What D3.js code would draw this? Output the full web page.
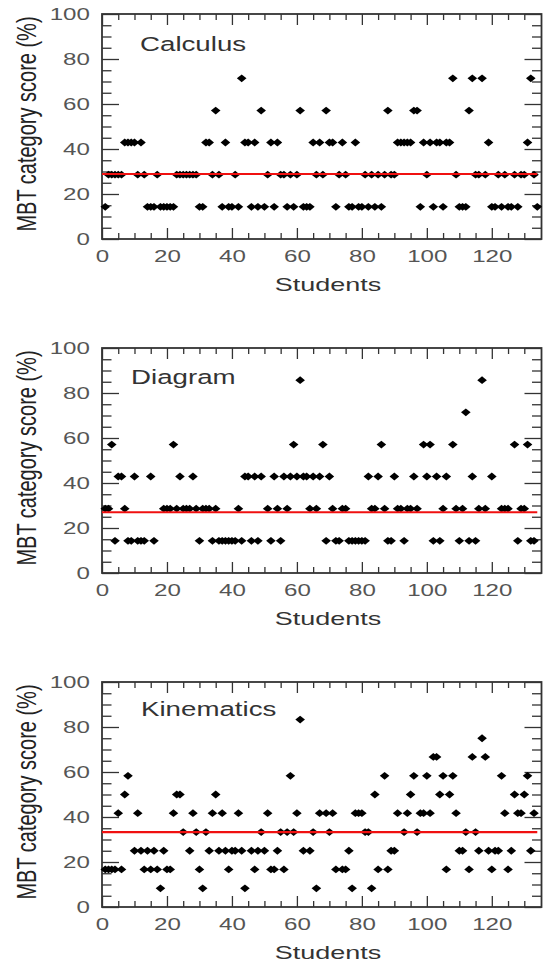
<!DOCTYPE html>
<html>
<head>
<meta charset="utf-8">
<script src="https://cdn.jsdelivr.net/npm/d3@7"></script>
<style>
  body { margin: 0; background: #fff; }
  svg { display: block; }
</style>
</head>
<body>
<svg id="chart" width="546" height="962"></svg>
<script>
// scores (%) per student, student 1 first; null = no marker visible
const calculusScores = [
    14.3, 28.6, 28.6, 28.6, 28.6, 28.6, 42.9, 42.9, 42.9, 42.9,
    28.6, 42.9, 28.6, 14.3, 14.3, 14.3, 28.6, 14.3, 14.3, 14.3,
    14.3, 14.3, 28.6, 28.6, 28.6, 28.6, 28.6, 28.6, 28.6, 14.3,
    14.3, 42.9, 42.9, 28.6, 57.1, 28.6, 14.3, 42.9, 14.3, 14.3,
    28.6, 14.3, 71.4, 42.9, 42.9, 14.3, 42.9, 14.3, 57.1, 14.3,
    28.6, 42.9, 14.3, 42.9, 28.6, 28.6, 14.3, 28.6, 14.3, 28.6,
    57.1, 14.3, 14.3, 14.3, 42.9, 28.6, 42.9, 28.6, 57.1, 42.9,
    42.9, 14.3, 28.6, 42.9, 28.6, 14.3, 14.3, 42.9, 14.3, 14.3,
    28.6, 14.3, 28.6, 14.3, 28.6, 14.3, 28.6, 57.1, 28.6, 28.6,
    42.9, 42.9, 42.9, 42.9, 42.9, 57.1, 57.1, 14.3, 42.9, 28.6,
    42.9, 14.3, 42.9, 42.9, 14.3, 42.9, 42.9, 71.4, 28.6, 14.3,
    14.3, 14.3, 57.1, 71.4, 28.6, 28.6, 71.4, 28.6, 42.9, 14.3,
    14.3, 28.6, 14.3, 28.6, 14.3, 14.3, 28.6, 14.3, 28.6, 28.6,
    42.9, 71.4, 28.6, 14.3
];

const diagramScores = [
    28.6, 28.6, 57.1, 14.3, 42.9, 42.9, 28.6, 14.3, 14.3, 42.9,
    14.3, 14.3, 14.3, null, 42.9, 14.3, null, null, 28.6, 28.6,
    28.6, 57.1, 28.6, 42.9, 28.6, 28.6, 28.6, 42.9, 28.6, 14.3,
    28.6, 28.6, 28.6, 14.3, 28.6, 14.3, 14.3, 14.3, 14.3, 14.3,
    14.3, 28.6, 14.3, 42.9, 42.9, 14.3, 42.9, 14.3, 42.9, null,
    28.6, 14.3, 42.9, 28.6, 14.3, 42.9, 28.6, 42.9, 57.1, 42.9,
    85.7, 42.9, 42.9, 28.6, 42.9, 28.6, 42.9, 57.1, 14.3, 42.9,
    28.6, 14.3, 14.3, 28.6, 28.6, 14.3, 14.3, 14.3, 14.3, 14.3,
    14.3, 42.9, 28.6, 28.6, 42.9, 57.1, 28.6, 14.3, 14.3, 42.9,
    28.6, 28.6, 14.3, 28.6, 28.6, 42.9, 28.6, null, 57.1, 42.9,
    57.1, 14.3, 42.9, 14.3, 28.6, 42.9, null, 57.1, 28.6, 14.3,
    28.6, 71.4, 14.3, 42.9, 14.3, 28.6, 85.7, 28.6, null, 42.9,
    null, null, 28.6, 28.6, 28.6, null, 57.1, 14.3, 28.6, 28.6,
    57.1, 14.3, 14.3, null
];

const kinematicsScores = [
    16.7, 16.7, 16.7, 16.7, 41.7, 16.7, 50, 58.3, null, 25,
    41.7, 25, 16.7, 25, 16.7, 25, 16.7, 8.3, 25, 16.7,
    16.7, 41.7, 50, 50, 33.3, null, 25, 41.7, 33.3, 16.7,
    8.3, 33.3, 25, 41.7, 50, 25, 41.7, 25, 16.7, 25,
    25, 41.7, 25, 8.3, null, 25, 16.7, 25, 33.3, 25,
    41.7, 16.7, 16.7, 25, 33.3, 16.7, 33.3, 58.3, 33.3, 41.7,
    83.3, 25, null, 25, 33.3, 8.3, 41.7, null, 41.7, 33.3,
    41.7, 16.7, null, 16.7, 16.7, 25, 8.3, 41.7, 41.7, 41.7,
    33.3, 33.3, 8.3, 50, 16.7, null, 58.3, 16.7, 25, 25,
    41.7, null, 33.3, 41.7, 50, 58.3, 33.3, 41.7, 41.7, 58.3,
    41.7, 66.7, 66.7, 50, 58.3, 16.7, 50, 58.3, 41.7, 25,
    25, 33.3, 16.7, 66.7, 33.3, 25, 75, 66.7, 25, 16.7,
    25, 25, 58.3, 41.7, 16.7, 25, 50, 41.7, 41.7, 50,
    58.3, 25, 41.7, null
];

const categoryNames = ["Calculus", "Diagram", "Kinematics"];
const categoryMeans = [28.9, 27.0, 33.3]; // red lines
const studentCount = 134;

const xTickValues = [0, 20, 40, 60, 80, 100, 120];
const xMinorTicks = d3.range(0, 135, 5).filter(v => v % 20 !== 0);
const yTickValues = [0, 20, 40, 60, 80, 100];
const yMinorTicks = d3.range(0, 101, 5).filter(v => v % 20 !== 0);

// Configuration
const config = {
    plotLeft: 102,
    plotRight: 541.5,
    xMax: 135.3,
    panelTops: [14, 348, 682],
    panelHeight: 225,
    titlePos: [[140, 51], [131, 384], [141, 716]],
    stretch: 1.42,          // the picture is wider than tall, text is too
    font: "'Liberation Sans', Arial, sans-serif",
    frameColor: "#333",
    labelColor: "#555"
};

const svg = d3.select("#chart");

const panels = categoryNames.map((name, i) => ({
    name: name,
    scores: [calculusScores, diagramScores, kinematicsScores][i],
    mean: categoryMeans[i]
}));

// style the tick labels that d3.axis makes
function styleTickText(sel, anchor) {
    sel.selectAll("text")
        .attr("font-family", config.font)
        .attr("font-size", 17)
        .attr("fill", config.labelColor)
        .attr("text-anchor", anchor)
        .attr("transform", `scale(${config.stretch},1)`);
}

function cleanAxis(sel) {
    sel.select(".domain").remove();
    sel.selectAll("line").attr("stroke", config.frameColor).attr("stroke-width", 1.3);
}

function drawPanel(panel, i) {
    const top = config.panelTops[i];
    const bottom = top + config.panelHeight;

    const x = d3.scaleLinear().domain([0, config.xMax]).range([config.plotLeft, config.plotRight]);
    const y = d3.scaleLinear().domain([0, 100]).range([bottom, top]);

    const g = svg.append("g").attr("class", "panel");

    // ticks, all pointing inward
    g.append("g").attr("transform", `translate(0,${bottom})`)
        .call(d3.axisBottom(x).tickValues(xTickValues).tickSize(-11).tickSizeOuter(0).tickPadding(11))
        .call(cleanAxis)
        .call(s => styleTickText(s, "middle"));
    g.append("g").attr("transform", `translate(0,${bottom})`)
        .call(d3.axisBottom(x).tickValues(xMinorTicks).tickSize(-6).tickSizeOuter(0).tickFormat(""))
        .call(cleanAxis);
    g.append("g").attr("transform", `translate(0,${top})`)
        .call(d3.axisTop(x).tickValues(xTickValues).tickSize(-11).tickSizeOuter(0).tickFormat(""))
        .call(cleanAxis);
    g.append("g").attr("transform", `translate(0,${top})`)
        .call(d3.axisTop(x).tickValues(xMinorTicks).tickSize(-6).tickSizeOuter(0).tickFormat(""))
        .call(cleanAxis);

    g.append("g").attr("transform", `translate(${config.plotLeft},0)`)
        .call(d3.axisLeft(y).tickValues(yTickValues).tickSize(-17).tickSizeOuter(0).tickPadding(8.5))
        .call(cleanAxis)
        .call(s => styleTickText(s, "end"));
    g.append("g").attr("transform", `translate(${config.plotLeft},0)`)
        .call(d3.axisLeft(y).tickValues(yMinorTicks).tickSize(-9.5).tickSizeOuter(0).tickFormat(""))
        .call(cleanAxis);
    g.append("g").attr("transform", `translate(${config.plotRight},0)`)
        .call(d3.axisRight(y).tickValues(yTickValues).tickSize(-17).tickSizeOuter(0).tickFormat(""))
        .call(cleanAxis);
    g.append("g").attr("transform", `translate(${config.plotRight},0)`)
        .call(d3.axisRight(y).tickValues(yMinorTicks).tickSize(-9.5).tickSizeOuter(0).tickFormat(""))
        .call(cleanAxis);

    // frame
    g.append("rect")
        .attr("x", config.plotLeft)
        .attr("y", top)
        .attr("width", config.plotRight - config.plotLeft)
        .attr("height", config.panelHeight)
        .attr("fill", "none")
        .attr("stroke", config.frameColor)
        .attr("stroke-width", 1.8);

    // students as diamonds
    const points = panel.scores
        .map((s, k) => ({ student: k + 1, score: s }))
        .filter(d => d.score !== null);

    const hw = 4.8, hh = 3.9;
    g.selectAll(".pt")
        .data(points)
        .enter()
        .append("path")
        .attr("class", "pt")
        .attr("d", `M0,${-hh}L${hw},0L0,${hh}L${-hw},0Z`)
        .attr("transform", d => `translate(${x(d.student)},${y(d.score)})`)
        .attr("fill", "#000");

    // class average
    g.append("line")
        .attr("x1", x(0))
        .attr("x2", x(studentCount))
        .attr("y1", y(panel.mean))
        .attr("y2", y(panel.mean))
        .attr("stroke", "#f01010")
        .attr("stroke-width", 2.2);

    // title inside the plot
    const [tx, ty] = config.titlePos[i];
    g.append("text")
        .attr("transform", `translate(${tx},${ty}) scale(${config.stretch},1)`)
        .attr("font-family", config.font)
        .attr("font-size", 19.5)
        .attr("fill", "#333")
        .text(panel.name);

    // axis titles
    g.append("text")
        .attr("transform", `translate(36,${top + 110}) scale(${config.stretch},1) rotate(-90)`)
        .attr("text-anchor", "middle")
        .attr("font-family", config.font)
        .attr("font-size", 20)
        .attr("fill", "#222")
        .text("MBT category score (%)");

    g.append("text")
        .attr("transform", `translate(328,${bottom + 52}) scale(${config.stretch},1)`)
        .attr("text-anchor", "middle")
        .attr("font-family", config.font)
        .attr("font-size", 19)
        .attr("fill", "#333")
        .text("Students");
}

panels.forEach(drawPanel);
</script>
</body>
</html>
